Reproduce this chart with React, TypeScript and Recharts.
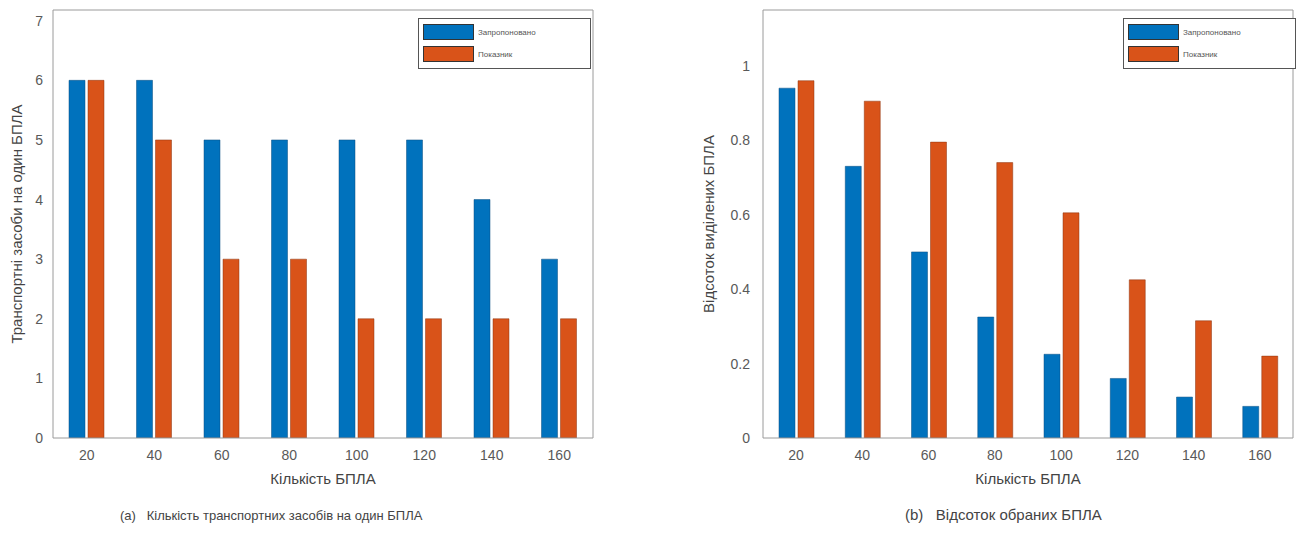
import { BarChart, Bar, XAxis, YAxis, Label } from 'recharts';

// Кількість БПЛА
const uavCounts = ['20', '40', '60', '80', '100', '120', '140', '160'];

// (a) транспортні засоби на один БПЛА
const vehiclesProposed = [6, 6, 5, 5, 5, 5, 4, 3];
const vehiclesBaseline = [6, 5, 3, 3, 2, 2, 2, 2];

// (b) відсоток виділених БПЛА
const shareProposed = [0.94, 0.73, 0.5, 0.325, 0.225, 0.16, 0.11, 0.085];
const shareBaseline = [0.96, 0.905, 0.795, 0.74, 0.605, 0.425, 0.315, 0.22];

const leftTicks = [0, 1, 2, 3, 4, 5, 6, 7];
const rightTicks = [0, 0.2, 0.4, 0.6, 0.8, 1];

const seriesNames = ['Запропоновано', 'Показник'];

const BLUE = '#0072BD';
const ORANGE = '#D95319';
const AXIS = '#9a9a9a';
const FONT = '"Liberation Sans", Arial, sans-serif';

const leftData = uavCounts.map((c, i) => ({ name: c, a: vehiclesProposed[i], b: vehiclesBaseline[i] }));
const rightData = uavCounts.map((c, i) => ({ name: c, a: shareProposed[i], b: shareBaseline[i] }));

function LegendBox({ left }: { left: number }) {
  const colors = [BLUE, ORANGE];
  return (
    <div style={{ position: 'absolute', left, top: 18, width: 173, height: 51, border: '1.5px solid #555', background: '#fff', boxSizing: 'border-box', padding: '2px 4px' }}>
      {seriesNames.map((n, i) => (
        <div key={n} style={{ display: 'flex', alignItems: 'center', height: 22 }}>
          <div style={{ width: 51, height: 16, background: colors[i], border: '1px solid #333', boxSizing: 'border-box' }} />
          <span style={{ marginLeft: 4, fontSize: 8, color: '#555', fontFamily: FONT }}>{n}</span>
        </div>
      ))}
    </div>
  );
}

const tickStyle = { fontSize: 14, fill: '#595959', fontFamily: FONT };

function Panel({ data, ticks, domain, yLabel, yWidth, yDx, yMargin }: any) {
  return (
    <BarChart width={600} height={490} data={data} margin={{ top: 9, right: 6, left: 0, bottom: 2 }} barSize={16} barGap={3}>
      <XAxis dataKey="name" height={50} tick={tickStyle} tickLine={false} stroke={AXIS} tickMargin={6}>
        <Label value="Кількість БПЛА" position="insideBottom" offset={4} style={{ fontSize: 15, fill: '#444', fontFamily: FONT }} />
      </XAxis>
      <XAxis xAxisId="top" dataKey="name" orientation="top" height={1} tick={false} tickLine={false} stroke={AXIS} />
      <YAxis width={yWidth} domain={domain} ticks={ticks} allowDataOverflow tick={tickStyle} tickLine={false} stroke={AXIS} tickMargin={yMargin}>
        <Label value={yLabel} angle={-90} position="center" dx={yDx} style={{ fontSize: 15, fill: '#444', fontFamily: FONT, textAnchor: 'middle' }} />
      </YAxis>
      <YAxis yAxisId="r" orientation="right" width={1} domain={domain} ticks={ticks} tick={false} tickLine={false} stroke={AXIS} />
      <Bar dataKey="a" name={seriesNames[0]} fill={BLUE} stroke="#0a4f80" strokeWidth={0.5} isAnimationActive={false} />
      <Bar dataKey="b" name={seriesNames[1]} fill={ORANGE} stroke="#8a3510" strokeWidth={0.5} isAnimationActive={false} />
    </BarChart>
  );
}

export default function App() {
  const caption = { position: 'absolute' as const, top: 508, color: '#444', fontFamily: FONT, whiteSpace: 'pre' as const };
  return (
    <div style={{ position: 'absolute', left: 0, top: 0, width: 1311, height: 537, background: '#fff' }}>
      <div style={{ position: 'absolute', left: 0, top: 0 }}>
        <Panel data={leftData} ticks={leftTicks} domain={[0, 7.18]} yLabel="Транспортні засоби на один БПЛА" yWidth={53} yDx={-10} yMargin={4} />
      </div>
      <div style={{ position: 'absolute', left: 700, top: 0 }}>
        <Panel data={rightData} ticks={rightTicks} domain={[0, 1.15]} yLabel="Відсоток виділених БПЛА" yWidth={63} yDx={-23} yMargin={7} />
      </div>
      <LegendBox left={418} />
      <LegendBox left={1123} />
      <div style={{ ...caption, left: 120, fontSize: 13 }}>{'(a)   Кількість транспортних засобів на один БПЛА'}</div>
      <div style={{ ...caption, left: 905, top: 506, fontSize: 15 }}>{'(b)   Відсоток обраних БПЛА'}</div>
    </div>
  );
}
